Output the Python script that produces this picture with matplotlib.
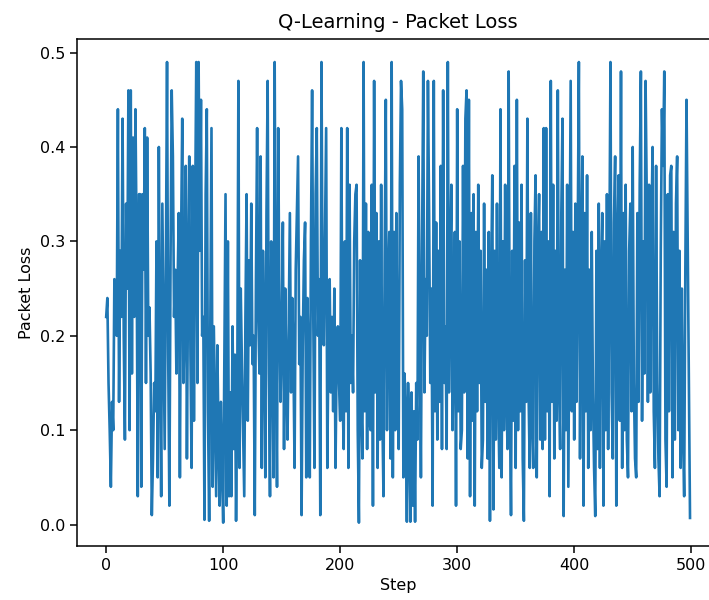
import numpy as np
import matplotlib
matplotlib.use('Agg')
import matplotlib.pyplot as plt

# packet loss per step
loss_0_99 = [
    0.22, 0.24, 0.15, 0.10, 0.04, 0.13, 0.10, 0.26, 0.24, 0.20, 0.44, 0.13, 0.29, 0.22, 0.43, 0.20, 0.09, 0.34, 0.25, 0.46,
    0.10, 0.46, 0.16, 0.41, 0.22, 0.44, 0.30, 0.03, 0.35, 0.35, 0.04, 0.35, 0.27, 0.42, 0.15, 0.41, 0.20, 0.23, 0.16, 0.01,
    0.07, 0.15, 0.12, 0.30, 0.05, 0.40, 0.18, 0.03, 0.34, 0.21, 0.08, 0.27, 0.49, 0.18, 0.02, 0.28, 0.46, 0.39, 0.22, 0.27,
    0.16, 0.25, 0.33, 0.05, 0.30, 0.43, 0.15, 0.21, 0.38, 0.07, 0.26, 0.39, 0.18, 0.06, 0.38, 0.11, 0.33, 0.49, 0.15, 0.49,
    0.29, 0.45, 0.20, 0.22, 0.005, 0.35, 0.44, 0.12, 0.004, 0.22, 0.42, 0.04, 0.21, 0.12, 0.03, 0.19, 0.09, 0.02, 0.13, 0.06,
]
loss_100_199 = [
    0.002, 0.18, 0.35, 0.02, 0.30, 0.03, 0.14, 0.03, 0.21, 0.08, 0.18, 0.004, 0.13, 0.47, 0.06, 0.25, 0.17, 0.10, 0.03, 0.22,
    0.35, 0.11, 0.28, 0.19, 0.34, 0.17, 0.20, 0.01, 0.26, 0.42, 0.22, 0.16, 0.39, 0.06, 0.29, 0.20, 0.05, 0.33, 0.47, 0.16,
    0.03, 0.30, 0.20, 0.05, 0.49, 0.18, 0.04, 0.42, 0.24, 0.13, 0.20, 0.32, 0.08, 0.25, 0.16, 0.09, 0.21, 0.33, 0.14, 0.24,
    0.18, 0.06, 0.27, 0.33, 0.39, 0.17, 0.22, 0.01, 0.19, 0.28, 0.32, 0.05, 0.24, 0.17, 0.05, 0.30, 0.46, 0.22, 0.06, 0.35,
    0.42, 0.20, 0.26, 0.01, 0.49, 0.23, 0.19, 0.31, 0.42, 0.06, 0.20, 0.26, 0.14, 0.22, 0.12, 0.25, 0.06, 0.18, 0.21, 0.15,
]
loss_200_299 = [
    0.11, 0.42, 0.14, 0.08, 0.30, 0.12, 0.42, 0.06, 0.36, 0.15, 0.20, 0.14, 0.30, 0.35, 0.36, 0.10, 0.002, 0.28, 0.13, 0.07,
    0.49, 0.12, 0.34, 0.08, 0.31, 0.11, 0.10, 0.36, 0.02, 0.47, 0.14, 0.33, 0.06, 0.30, 0.09, 0.36, 0.12, 0.03, 0.28, 0.45,
    0.10, 0.25, 0.31, 0.07, 0.49, 0.05, 0.31, 0.10, 0.33, 0.14, 0.08, 0.36, 0.47, 0.44, 0.05, 0.16, 0.12, 0.003, 0.15, 0.10,
    0.003, 0.14, 0.02, 0.12, 0.003, 0.15, 0.09, 0.39, 0.21, 0.05, 0.30, 0.48, 0.14, 0.26, 0.20, 0.47, 0.33, 0.15, 0.25, 0.02,
    0.47, 0.12, 0.32, 0.09, 0.29, 0.13, 0.38, 0.08, 0.46, 0.15, 0.21, 0.08, 0.49, 0.14, 0.27, 0.36, 0.10, 0.18, 0.31, 0.02,
]
loss_300_399 = [
    0.44, 0.12, 0.30, 0.08, 0.10, 0.38, 0.14, 0.43, 0.46, 0.07, 0.45, 0.03, 0.33, 0.11, 0.35, 0.02, 0.31, 0.12, 0.36, 0.15,
    0.29, 0.06, 0.09, 0.34, 0.13, 0.27, 0.07, 0.31, 0.004, 0.25, 0.37, 0.016, 0.29, 0.09, 0.34, 0.14, 0.06, 0.44, 0.05, 0.30,
    0.10, 0.36, 0.15, 0.08, 0.48, 0.14, 0.01, 0.29, 0.11, 0.38, 0.06, 0.45, 0.10, 0.32, 0.12, 0.36, 0.07, 0.004, 0.28, 0.13,
    0.43, 0.14, 0.06, 0.33, 0.11, 0.06, 0.30, 0.37, 0.05, 0.28, 0.35, 0.09, 0.31, 0.08, 0.42, 0.09, 0.42, 0.12, 0.30, 0.03,
    0.47, 0.13, 0.36, 0.07, 0.29, 0.11, 0.46, 0.15, 0.08, 0.33, 0.43, 0.009, 0.27, 0.10, 0.36, 0.04, 0.25, 0.47, 0.12, 0.31,
]
loss_400_499 = [
    0.09, 0.34, 0.13, 0.30, 0.49, 0.07, 0.28, 0.39, 0.02, 0.33, 0.12, 0.37, 0.06, 0.27, 0.10, 0.31, 0.14, 0.06, 0.009, 0.29,
    0.08, 0.34, 0.06, 0.26, 0.33, 0.02, 0.30, 0.10, 0.35, 0.08, 0.27, 0.49, 0.14, 0.07, 0.32, 0.39, 0.02, 0.30, 0.37, 0.11,
    0.48, 0.06, 0.33, 0.10, 0.36, 0.09, 0.05, 0.29, 0.34, 0.12, 0.40, 0.15, 0.07, 0.05, 0.33, 0.13, 0.36, 0.48, 0.11, 0.30,
    0.16, 0.47, 0.35, 0.13, 0.36, 0.14, 0.31, 0.40, 0.12, 0.06, 0.38, 0.15, 0.07, 0.03, 0.29, 0.44, 0.38, 0.48, 0.09, 0.04,
    0.35, 0.12, 0.37, 0.38, 0.05, 0.31, 0.09, 0.34, 0.39, 0.10, 0.29, 0.06, 0.25, 0.10, 0.03, 0.27, 0.45, 0.30, 0.16, 0.007,
]

loss = np.array(loss_0_99 + loss_100_199 + loss_200_299 + loss_300_399 + loss_400_499)
steps = np.arange(len(loss))

fig = plt.figure(figsize=(7.09, 6.0), dpi=100)
ax = fig.add_axes([0.1086, 0.0905, 0.9058, 0.8445])
ax.plot(steps, loss, color='#1f77b4', linewidth=1.9)

ax.set_title('Q-Learning - Packet Loss', fontsize=14, pad=8)
ax.set_xlabel('Step', fontsize=11.5)
ax.set_ylabel('Packet Loss', fontsize=11.5)
ax.set_xticks([0, 100, 200, 300, 400, 500])
ax.set_yticks([0.0, 0.1, 0.2, 0.3, 0.4, 0.5])
ax.tick_params(labelsize=11.5, length=5, width=1.1)
for s in ax.spines.values():
    s.set_linewidth(1.1)

fig.savefig('out.png', dpi=100)
